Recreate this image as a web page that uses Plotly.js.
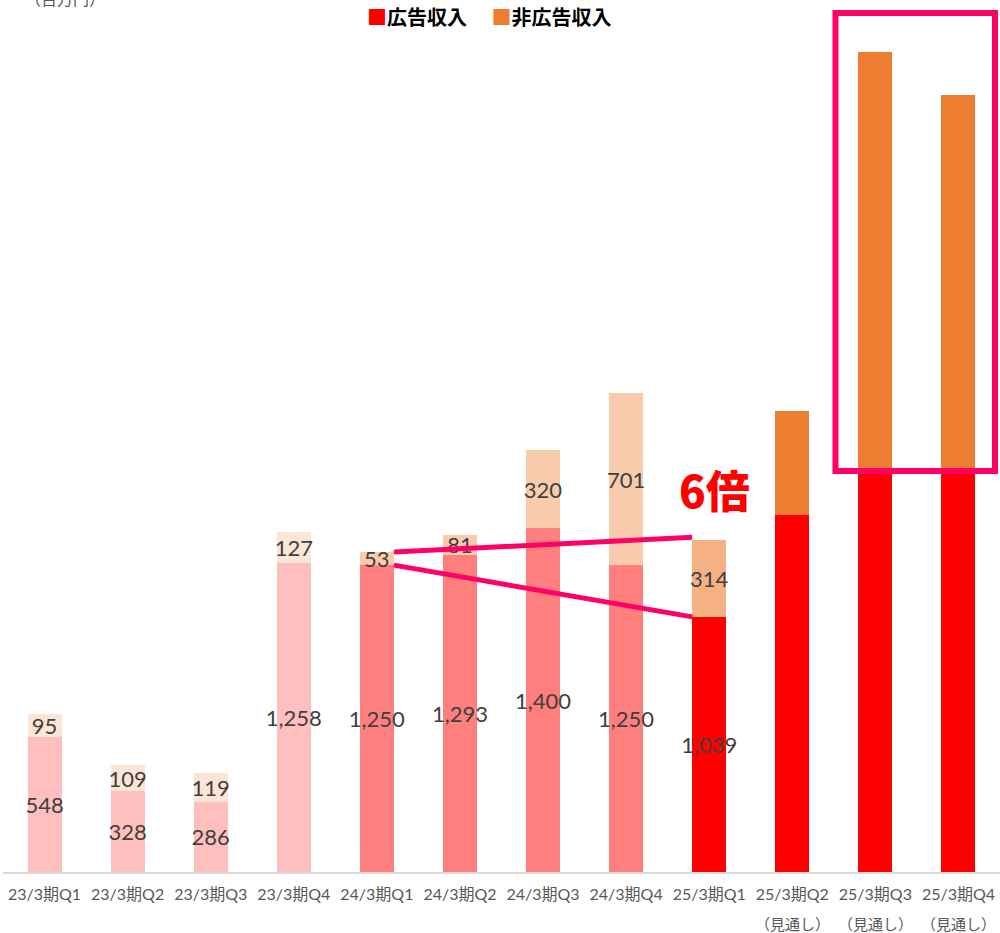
<!DOCTYPE html>
<html>
<head>
<meta charset="utf-8">
<script src="https://cdn.plot.ly/plotly-3.0.1.min.js"></script>
<style>html,body{margin:0;padding:0;background:#fff;}#chart{width:1000px;height:933px;}</style>
</head>
<body>
<div id="chart"></div>
<script>
// ---- data ----
const categories = ["23/3期Q1","23/3期Q2","23/3期Q3","23/3期Q4","24/3期Q1","24/3期Q2","24/3期Q3","24/3期Q4","25/3期Q1","25/3期Q2","25/3期Q3","25/3期Q4"];
const forecastNote = ["","","","","","","","","","（見通し）","（見通し）","（見通し）"];
const adRevenue    = [548, 328, 286, 1258, 1250, 1293, 1400, 1250, 1039, 1454, 1633, 1633];
const nonAdRevenue = [95, 109, 119, 127, 53, 81, 320, 701, 314, 424, 1707, 1532];
const showLabel    = [true,true,true,true,true,true,true,true,true,false,false,false];
const seriesNames  = ["広告収入", "非広告収入"];
const unitLabel    = "（百万円）";
const ratioLabel   = "6倍";

// ---- styles ----
const adColors    = ["#FFBFBF","#FFBFBF","#FFBFBF","#FFBFBF","#FF7F7F","#FF7F7F","#FF7F7F","#FF7F7F","#FF0000","#FF0000","#FF0000","#FF0000"];
const nonAdColors = ["#FBE5D6","#FBE5D6","#FBE5D6","#FBE5D6","#F8CBAD","#F8CBAD","#F8CBAD","#F8CBAD","#F4B183","#ED7D31","#ED7D31","#ED7D31"];
const legendColors = ["#FF0000", "#ED7D31"];
const fmt = v => v.toLocaleString("en-US");
const labelFont = {family: "Lato, 'DejaVu Sans', sans-serif", size: 22, color: "#404040"};
const cjk = "'Noto Sans CJK JP', sans-serif";

const traces = [
  {
    type: "bar", x: categories, y: adRevenue, name: seriesNames[0], showlegend: false,
    marker: {color: adColors},
    text: adRevenue.map((v,i) => showLabel[i] ? fmt(v) : ""),
    textposition: "inside", insidetextanchor: "middle", textangle: 0,
    textfont: labelFont, width: 0.41, hoverinfo: "none", cliponaxis: false
  },
  {
    type: "bar", x: categories, y: nonAdRevenue, name: seriesNames[1], showlegend: false,
    marker: {color: nonAdColors},
    text: nonAdRevenue.map((v,i) => showLabel[i] ? fmt(v) : ""),
    textposition: "inside", insidetextanchor: "middle", textangle: 0,
    textfont: labelFont, width: 0.41, hoverinfo: "none", cliponaxis: false
  }
];

const hw = 0.205;
const total = adRevenue.map((v,i) => v + nonAdRevenue[i]);
const pink = "#FF0066";

const annotations = [
  {text: "<span style='color:" + legendColors[0] + "'>■</span>" + seriesNames[0] +
         "\u3000 <span style='color:" + legendColors[1] + "'>■</span>" + seriesNames[1],
   xref: "paper", yref: "paper", x: 0.488, xanchor: "center", y: 1.0116, yanchor: "top",
   showarrow: false, font: {family: cjk, size: 20, color: "#000", weight: "bold"}},
  {text: ratioLabel, xref: "x", yref: "y", x: 8.06, y: 1560, showarrow: false,
   font: {family: cjk, size: 44, color: "#FF0000", weight: 900}},
  {text: unitLabel, xref: "paper", yref: "paper", x: 0.02, xanchor: "left", y: 1.0135, yanchor: "middle",
   showarrow: false, font: {family: cjk, size: 16, color: "#595959"}}
];
forecastNote.forEach((t, i) => {
  if (t) annotations.push({text: t, xref: "x", yref: "paper", x: categories[i], y: -0.060, yanchor: "middle",
    showarrow: false, font: {family: cjk, size: 15, color: "#595959"}});
});

const layout = {
  width: 1000, height: 933,
  margin: {l: 3, r: 0, t: 10, b: 61, autoexpand: false},
  paper_bgcolor: "#fff", plot_bgcolor: "#fff",
  barmode: "stack",
  showlegend: false,
  uniformtext: {mode: "show", minsize: 22},
  xaxis: {
    type: "category", showgrid: false, zeroline: false, automargin: false,
    showline: true, linecolor: "#D9D9D9", linewidth: 2,
    ticks: "", ticklabelstandoff: 7,
    tickfont: {family: "Lato, 'Noto Sans CJK JP', sans-serif", size: 16, color: "#595959"},
    fixedrange: true
  },
  yaxis: {range: [0, 3511], visible: false, showgrid: false, zeroline: false, fixedrange: true, automargin: false},
  shapes: [
    {type: "line", xref: "x", yref: "y", x0: 4 + hw, y0: total[4], x1: 8 - hw, y1: total[8] + 10,
     line: {color: pink, width: 5}},
    {type: "line", xref: "x", yref: "y", x0: 4 + hw, y0: adRevenue[4], x1: 8 - hw, y1: adRevenue[8],
     line: {color: pink, width: 5}},
    {type: "rect", xref: "x", yref: "y", x0: 9.52, x1: 11.44, y0: adRevenue[10], y1: 3499,
     line: {color: pink, width: 6}, fillcolor: "rgba(0,0,0,0)"}
  ],
  annotations: annotations
};

Plotly.newPlot("chart", traces, layout, {displayModeBar: false, staticPlot: true});
</script>
</body>
</html>
